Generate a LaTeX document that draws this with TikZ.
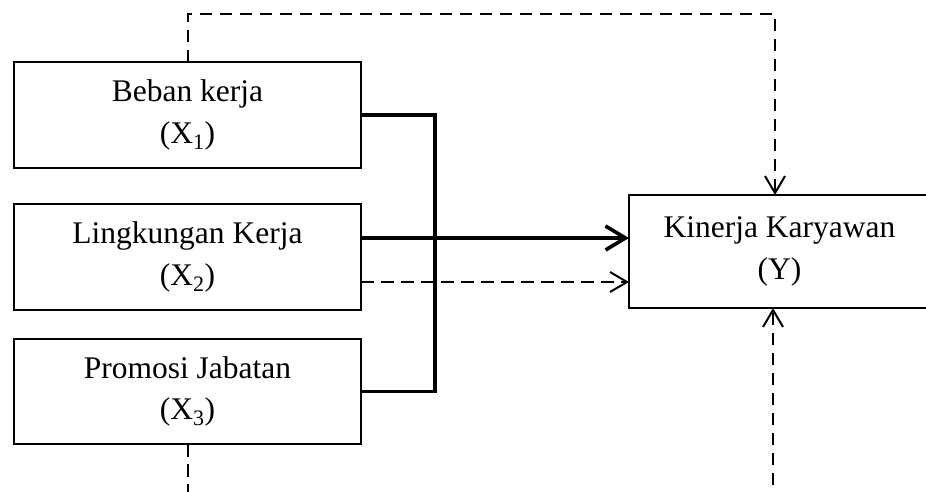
\documentclass[tikz,border=0pt]{standalone}
\usepackage{fontspec}
\setmainfont{Liberation Serif}
\usetikzlibrary{arrows.meta}
\begin{document}
\begin{tikzpicture}[x=1pt,y=-1pt,
  boxline/.style={line width=2pt},
  varbox/.style={draw, boxline, minimum width=347pt, minimum height=106pt,
    align=center, inner sep=0pt, outer sep=0pt, font=\fontsize{31.5}{41.5}\selectfont},
  solidline/.style={line width=3.6pt, line join=miter},
  dashline/.style={line width=2pt, dash pattern=on 12.5pt off 7.5pt},
  bigtip/.style={-{Straight Barb[length=20pt,width=24pt]}},
  dashtip/.style={-{Straight Barb[length=17pt,width=20pt]}}]
\useasboundingbox (0,0) rectangle (926,491);
\clip (0,0) rectangle (926,491);
\node[varbox] (X1) at (187.5,115) {Beban kerja\\(X\textsubscript{1})};
\node[varbox] (X2) at (187.5,257) {Lingkungan Kerja\\(X\textsubscript{2})};
\node[varbox, minimum height=105pt] (X3) at (187.5,391.5) {Promosi Jabatan\\(X\textsubscript{3})};
\node[varbox, draw=none, minimum width=301pt, minimum height=113pt] (Y) at (779.5,251.5) {Kinerja Karyawan\\(Y)};
% the Y box runs past the right edge of the picture
\draw[boxline] ([xshift=40pt]Y.north east) -- (Y.north west) -- (Y.south west) -- ([xshift=40pt]Y.south east);
\coordinate (bus) at (435,0);
\coordinate (top) at (0,14);
\coordinate (bot) at (0,505);
% solid connectors
\draw[solidline] (X1.east) -| (bus |- X3.east) -- (X3.east);
\draw[solidline,bigtip] ([yshift=19pt]X2.east) -- ([yshift=19pt]X2.east -| Y.west);
% dashed connectors
\draw[dashline,dashtip] ([yshift=-25pt]X2.east) -- ([yshift=-25pt]X2.east -| Y.west);
\draw[dashline,dashtip] (X1.north) -- (X1.north |- top) -| ([xshift=-4.5pt]Y.north);
\draw[dashline] (X3.south) -- (X3.south |- bot);
\draw[dashline,dashtip] ([xshift=-6.5pt]Y.south |- bot) -- ([xshift=-6.5pt]Y.south);
\end{tikzpicture}
\end{document}
